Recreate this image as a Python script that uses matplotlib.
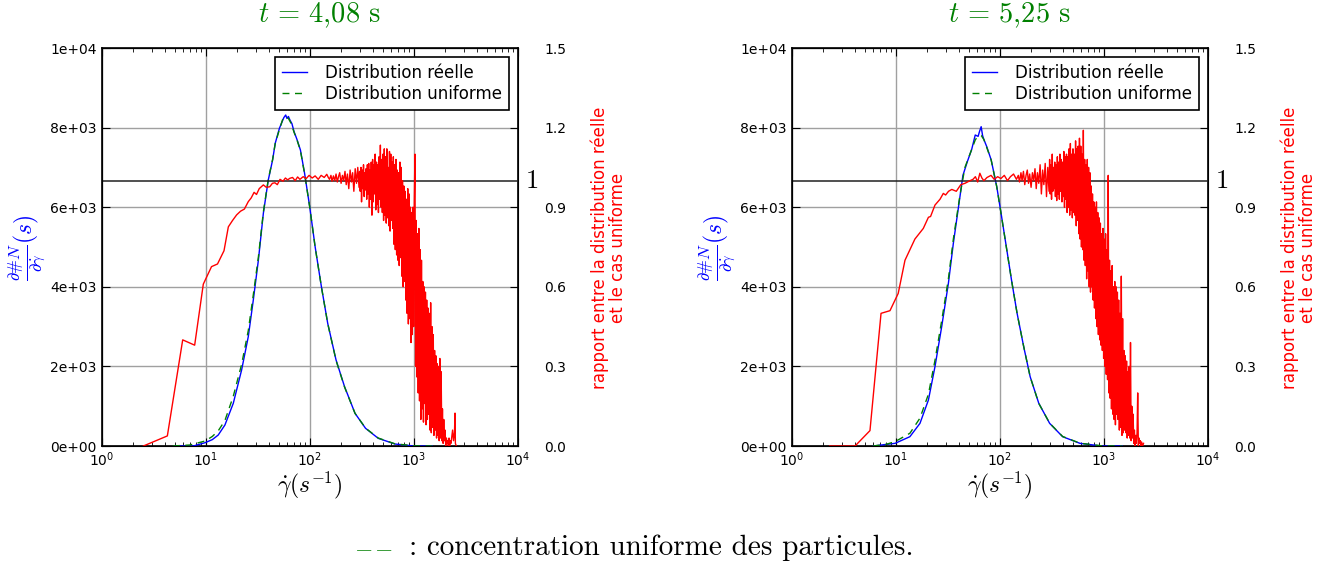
import matplotlib
matplotlib.use('Agg')
import matplotlib.pyplot as plt
from matplotlib.ticker import FuncFormatter, FixedLocator
from matplotlib.mathtext import MathTextParser
import matplotlib.transforms as mtransforms

plt.rcParams['mathtext.fontset'] = 'cm'
plt.rcParams['font.family'] = ['DejaVu Sans']

# ---- data ----
titles = [r'$t\,=\,4{,}08$ s', r'$t\,=\,5{,}25$ s']

# blue: distribution reelle
blue_x_1 = [5, 7.55, 9.8, 11.5, 13.1, 15.2, 18.3, 22, 25.5, 28.5, 31.9, 35.6, 39.7, 43.7, 46.3,
            50.8, 54, 56, 58.4, 60, 62, 64.1, 67, 70.3, 75, 80.9, 88.7, 99.3, 112, 128.7, 148,
            178, 215, 271, 342, 453, 656, 1000, 1500]
blue_y_1 = [0, 0, 83, 160, 275, 527, 1073, 1910, 2746, 3668, 4673, 5846, 6683, 7186, 7605,
            7982, 8150, 8250, 8317, 8230, 8280, 8191, 8100, 7897, 7700, 7437, 6852, 6013, 5008,
            4003, 3083, 2161, 1490, 821, 445, 193, 50, 0, 0]
blue_x_2 = [6.05, 9.8, 13.6, 17, 20.5, 23.7, 27.5, 31.9, 35.6, 41.2, 44, 48.6, 53.4, 57.8, 61.6,
            63.5, 65.9, 68, 70, 74.6, 82.3, 93.1, 102.4, 115, 129, 146, 169, 195, 236, 300, 400,
            587, 948, 1500]
blue_y_2 = [0, 67, 234, 569, 1156, 1993, 2998, 4088, 5093, 6264, 6800, 7150, 7450, 7814, 7780,
            7900, 8023, 7800, 7700, 7520, 7186, 6515, 5846, 5008, 4171, 3334, 2495, 1741, 1073,
            570, 234, 67, 0, 0]

# green dashed: distribution uniforme
green_x_1 = [4.8, 7, 9.8, 11.5, 13.1, 15.2, 18.3, 22, 25.5, 28.5, 31.9, 35.6, 39.7, 43.7, 46.3,
             50.8, 54.5, 58.4, 62, 66, 70.3, 75, 80.9, 88.7, 99.3, 112, 128.7, 148, 178, 215,
             271, 342, 453, 656, 1000, 1500]
green_y_1 = [0, 25, 125, 240, 380, 640, 1250, 2050, 2900, 3800, 4750, 5880, 6700, 7200, 7600,
             7950, 8200, 8270, 8230, 8100, 7880, 7690, 7420, 6840, 6010, 5000, 4000, 3080, 2150,
             1480, 820, 450, 200, 55, 5, 0]
green_x_2 = [6, 8, 9.8, 13.6, 17, 20.5, 23.7, 27.5, 31.9, 35.6, 41.2, 46, 53.4, 58, 62, 66, 70,
             74.6, 82.3, 93.1, 102.4, 115, 129, 146, 169, 195, 236, 300, 400, 587, 948, 1500]
green_y_2 = [0, 40, 110, 320, 700, 1300, 2150, 3150, 4200, 5200, 6300, 7000, 7450, 7700, 7780,
             7800, 7700, 7500, 7180, 6510, 5840, 5000, 4170, 3330, 2500, 1740, 1070, 575, 240, 70,
             5, 0]

# red: ratio, smooth low part
ratio_x_low_1 = [2.5, 4.25, 5.97, 7.78, 9.42, 11.3, 12.9, 14.9, 16.4, 18, 19.7, 21.5, 23.4, 25.5,
                 27.2, 29, 30.6, 32.5, 35.6, 38, 41, 43.5, 46, 48.5, 51.5, 55, 58, 61, 64, 68, 72,
                 76, 80, 86, 92, 98, 105, 112, 120, 128, 137, 145]
ratio_y_low_1 = [0.0, 0.038, 0.40, 0.38, 0.61, 0.676, 0.686, 0.736, 0.826, 0.85, 0.871, 0.885,
                 0.893, 0.921, 0.935, 0.956, 0.948, 0.97, 0.984, 0.975, 0.977, 0.99, 0.992, 0.985,
                 1.005, 0.998, 1.01, 1.003, 1.009, 1.012, 1.0, 1.014, 1.005, 1.015, 1.008, 1.02,
                 1.01, 1.018, 1.005, 1.02, 1.012, 1.024]
ratio_x_low_2 = [2.3, 4.04, 5.62, 7.18, 8.75, 10.5, 12.2, 15.2, 18.3, 20.5, 21.5, 23.7, 26.5, 28.5,
                 30, 32, 34.4, 38, 42, 46, 51.5, 55, 58, 61, 64, 67, 70, 75, 82, 88, 95, 102, 110,
                 118, 126, 135, 144]
ratio_y_low_2 = [0.0, 0.0, 0.058, 0.50, 0.51, 0.575, 0.70, 0.78, 0.82, 0.862, 0.865, 0.908, 0.93,
                 0.952, 0.946, 0.96, 0.967, 0.96, 0.985, 0.99, 1.0, 1.005, 1.015, 0.995, 1.028,
                 1.01, 1.0, 1.012, 1.02, 1.005, 1.015, 1.008, 1.02, 1.0, 1.015, 1.025, 1.005]

# red: ratio, noisy high part (shear-rate samples shared by both panels)
ratio_x_high = [150, 154, 159, 163, 168, 173, 178, 183, 188, 193,
                199, 205, 211, 217, 223, 229, 236, 243, 250, 257,
                264, 272, 280, 288, 296,
                300, 304, 309, 313, 318, 322, 327, 332, 336, 341,
                346, 351, 356, 361, 367, 372, 377, 383, 388, 394,
                400, 405, 411, 417, 423, 429, 436, 442, 448, 455,
                461, 468, 475, 482, 489, 496, 503, 510, 518, 525,
                533, 541, 548, 556, 564, 573, 581, 589, 598, 607,
                615, 624, 633, 643, 652, 661, 671, 681, 691, 701,
                711, 721, 732, 742, 753, 764, 775, 787, 798, 810,
                822, 834, 846, 858, 871, 883, 896, 909, 923, 936,
                950, 964, 978, 992, 1006, 1021, 1036, 1051, 1066, 1082,
                1098, 1114, 1130, 1147, 1163, 1180, 1198, 1215, 1233, 1251,
                1269, 1288, 1306, 1325, 1345, 1364, 1384, 1405, 1425, 1446,
                1467, 1489, 1510, 1532, 1555, 1578, 1601, 1624, 1648, 1672,
                1696, 1721, 1746, 1772, 1798, 1824, 1851, 1878, 1905, 1933,
                1961, 1990, 2019, 2049, 2079, 2109, 2140, 2172, 2203, 2236,
                2268, 2301]
ratio_y_high_1 = [1.012, 1.005, 1.02, 0.998, 1.018, 1.0, 1.025, 0.995, 1.015, 1.03,
                  0.99, 1.02, 1.0, 1.035, 0.985, 1.025, 0.97, 1.04, 0.995, 1.03,
                  0.96, 1.045, 0.99, 1.05, 0.975,
                  1.035, 0.96, 1.05, 0.92, 1.04, 0.97, 1.06, 0.94, 1.03, 0.965,
                  1.045, 0.93, 1.06, 0.95, 1.065, 0.9, 1.04, 0.93, 1.07, 0.87,
                  1.08, 0.92, 1.06, 0.95, 1.1, 0.89, 1.07, 0.91, 1.06, 0.88,
                  1.09, 0.93, 1.134, 0.9, 1.08, 0.88, 1.1, 0.85, 1.12, 0.87,
                  1.09, 0.84, 1.12, 0.86, 1.05, 0.83, 1.11, 0.81, 1.1, 0.85,
                  1.07, 0.82, 1.09, 0.76, 1.06, 0.74, 1.08, 0.72, 1.04, 0.7,
                  1.03, 0.68, 1.07, 0.71, 1.05, 0.64, 1.0, 0.6, 0.98, 0.62,
                  0.96, 0.55, 0.93, 0.5, 0.97, 0.46, 0.95, 0.48, 0.9, 0.39,
                  0.88, 0.42, 0.9, 0.45, 0.92, 1.10, 0.3, 0.85, 0.26, 0.8,
                  0.2, 0.82, 0.17, 0.74, 0.1, 0.7, 0.14, 0.62, 0.09, 0.6,
                  0.16, 0.58, 0.08, 0.55, 0.1, 0.52, 0.12, 0.5, 0.06, 0.54,
                  0.05, 0.45, 0.07, 0.42, 0.04, 0.36, 0.06, 0.34, 0.03, 0.31,
                  0.04, 0.3, 0.02, 0.33, 0.03, 0.28, 0.02, 0.14, 0.01, 0.1,
                  0.02, 0.06, 0.0, 0.03, 0.01, 0.02, 0.0, 0.03, 0.0, 0.02,
                  0.01, 0.03]
ratio_y_high_2 = [1.02, 0.995, 1.03, 1.0, 1.035, 0.985, 1.02, 1.04, 0.99, 1.025,
                  0.975, 1.03, 1.0, 1.045, 0.97, 1.03, 0.99, 1.06, 0.95, 1.04,
                  0.985, 1.065, 0.94, 1.05, 0.96,
                  1.08, 0.95, 1.06, 0.93, 1.1, 0.96, 1.05, 0.97, 1.07, 0.94,
                  1.06, 0.925, 1.09, 0.95, 1.07, 0.93, 1.1, 0.96, 1.08, 0.92,
                  1.07, 0.94, 1.11, 0.9, 1.09, 0.93, 1.1, 0.88, 1.09, 0.9,
                  1.12, 0.87, 1.14, 0.89, 1.1, 0.86, 1.12, 0.88, 1.1, 0.87,
                  1.15, 0.83, 1.12, 0.85, 1.13, 0.8, 1.16, 0.78, 1.13, 0.75,
                  1.1, 0.74, 1.19, 0.7, 1.08, 0.68, 1.06, 0.63, 1.08, 0.66,
                  1.05, 0.6, 1.03, 0.58, 0.98, 0.6, 0.95, 0.55, 0.92, 0.52,
                  0.9, 0.48, 0.92, 0.45, 0.88, 0.42, 0.86, 0.4, 0.84, 0.38,
                  0.8, 0.36, 0.82, 0.33, 0.78, 0.3, 0.8, 0.27, 0.74, 0.25,
                  1.02, 0.2, 0.7, 0.18, 0.66, 0.14, 0.68, 0.12, 0.6, 0.1,
                  0.62, 0.08, 0.6, 0.12, 0.58, 0.1, 0.55, 0.06, 0.5, 0.07,
                  0.64, 0.04, 0.48, 0.05, 0.36, 0.06, 0.34, 0.05, 0.32, 0.03,
                  0.28, 0.04, 0.3, 0.03, 0.39, 0.02, 0.15, 0.03, 0.12, 0.01,
                  0.06, 0.0, 0.04, 0.01, 0.05, 0.2, 0.0, 0.03, 0.01, 0.02,
                  0.0, 0.015]

# red: tail end of each ratio curve
ratio_x_tail_1 = [2350, 2400, 2450, 2480, 2500, 2550]
ratio_y_tail_1 = [0.06, 0.02, 0.05, 0.124, 0.01, 0.0]
ratio_x_tail_2 = [2350, 2400]
ratio_y_tail_2 = [0.0, 0.01]

panels = [
    (blue_x_1, blue_y_1, green_x_1, green_y_1,
     ratio_x_low_1 + ratio_x_high + ratio_x_tail_1, ratio_y_low_1 + ratio_y_high_1 + ratio_y_tail_1),
    (blue_x_2, blue_y_2, green_x_2, green_y_2,
     ratio_x_low_2 + ratio_x_high + ratio_x_tail_2, ratio_y_low_2 + ratio_y_high_2 + ratio_y_tail_2),
]


# pick a hash spelling that mathtext accepts
def pick_label():
    parser = MathTextParser('path')
    for h in [r'\text{#}', r'\#', r'\sharp']:
        s = r'$\frac{\partial ' + h + r'N}{\partial \dot{\gamma}}(s)$'
        try:
            parser.parse(s)
            return s
        except Exception:
            pass
    return r'$\frac{\partial N}{\partial \dot{\gamma}}(s)$'


ylabel_left = pick_label()

W, H = 1337, 567
fig = plt.figure(figsize=(W / 100, H / 100), dpi=100)


def fx(p):
    return p / W


def fy(p):
    return 1 - p / H


lefts = [102, 792]
ax_w, top, bottom = 416, 48, 446

for k, (bx, by, gx, gy, rx, ry) in enumerate(panels):
    L = lefts[k]
    ax = fig.add_axes([fx(L), fy(bottom), ax_w / W, (bottom - top) / H])
    ax.plot(bx, by, color='#0000ff', lw=1, label='Distribution réelle', zorder=3)
    ax.plot(gx, gy, color='#008000', lw=1, dashes=(5, 4), label='Distribution uniforme', zorder=3)
    ax.set_xscale('log')
    ax.set_xlim(1, 1e4)
    ax.set_ylim(0, 1e4)
    ax.yaxis.set_major_locator(FixedLocator([0, 2000, 4000, 6000, 8000, 10000]))
    ax.yaxis.set_major_formatter(FuncFormatter(lambda v, p: '%.0e' % v))
    ax.grid(True, color='#a0a0a0', lw=1, ls='-')
    ax.set_axisbelow(True)
    ax.tick_params(which='both', direction='in', top=True, labelsize=10)
    ax.tick_params(axis='y', pad=4)
    ax.tick_params(which='major', length=6)
    ax.tick_params(which='minor', length=3)
    for s in ax.spines.values():
        s.set_linewidth(1.2)
    leg = ax.legend(loc='upper right', fontsize=12, fancybox=False, edgecolor='k', framealpha=1,
                    borderaxespad=0.55, borderpad=0.4, handlelength=1.5, handletextpad=1.1,
                    labelspacing=0.2)
    leg.get_frame().set_linewidth(1.2)

    ax2 = ax.twinx()
    ax2.plot(rx, ry, color='#ff0000', lw=1, zorder=2)
    ax2.axhline(1, color='#202020', lw=1.1, zorder=1)
    ax2.set_ylim(0, 1.5)
    ax2.yaxis.set_major_locator(FixedLocator([0, 0.3, 0.6, 0.9, 1.2, 1.5]))
    ax2.yaxis.set_major_formatter(FuncFormatter(lambda v, p: '%.1f' % v))
    ax2.tick_params(axis='y', direction='in', length=6, pad=19, labelsize=10)
    trans = mtransforms.blended_transform_factory(ax2.transAxes, ax2.transData)
    ax2.text(1.016, 1.0, r'$1$', transform=trans, fontsize=19, ha='left', va='center')

    cx = L + ax_w / 2
    fig.text(fx(cx + 9.5), fy(15), titles[k], color='#008000', fontsize=20.5,
             fontfamily='cmr10', ha='center', va='center')
    fig.text(fx(cx), fy(485), r'$\dot{\gamma}(s^{-1})$', fontsize=17, ha='center', va='center')
    fig.text(fx(L - 75), fy(248), ylabel_left,
             color='#0000ff', fontsize=17, rotation=90, ha='center', va='center')
    fig.text(fx(L + ax_w + 90.5), fy(248), 'rapport entre la distribution réelle\net le cas uniforme',
             color='#ff0000', fontsize=12, rotation=90, ha='center', va='center',
             multialignment='center', linespacing=1.0)

# caption under the figure
for dash_x in [354, 374]:
    fig.text(fx(dash_x), fy(547), r'$-$', color='#008000', fontsize=17, ha='left', va='center')
fig.text(fx(409), fy(548), ': concentration uniforme des particules.', fontsize=21,
         fontfamily='cmr10', ha='left', va='center')

fig.savefig('out.png', dpi=100)
